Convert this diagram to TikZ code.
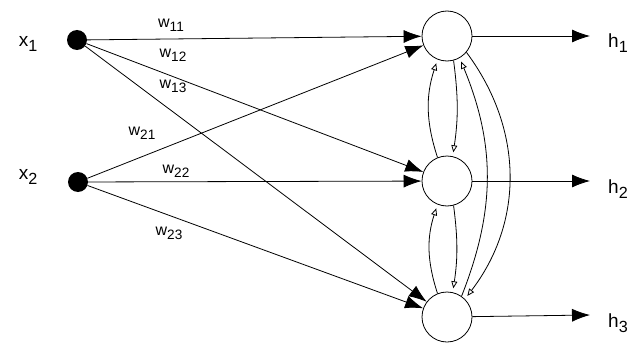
\documentclass[tikz,border=0pt]{standalone}
\usepackage{fontspec}
\setmainfont{Liberation Sans}
\usetikzlibrary{arrows.meta}

% lowered index, nearly full size
\newcommand{\lowIdx}[1]{\raisebox{-0.45ex}{\fontsize{0.85em}{1em}\selectfont #1}}

\begin{document}
\begin{tikzpicture}[
    x=1pt, y=1pt,
    neuron/.style={
        circle,
        draw=black,
        thick,
        fill=white,
        inner sep=0pt,
        minimum size=50pt
    },
    inputDot/.style={
        circle,
        fill=black,
        inner sep=0pt,
        minimum size=20pt
    },
    weightArrow/.style={
        thick,
        -{Latex[length=18pt,width=13pt]}
    },
    outArrow/.style={
        thick,
        -{Latex[length=18pt,width=13pt]}
    },
    feedbackArc/.style={
        thick,
        shorten >=4pt,
        -{Triangle[open,length=7pt,width=6pt]}
    },
    weightLabel/.style={
        inner sep=0pt,
        font=\fontsize{16pt}{18pt}\selectfont
    },
    ioLabel/.style={
        inner sep=0pt,
        font=\fontsize{19pt}{21pt}\selectfont
    }
]
\useasboundingbox (0,0) rectangle (637,349);

% ==================== INPUTS ====================
\node[inputDot] (inX1) at (77, 309) {};
\node[inputDot] (inX2) at (78, 167) {};
\node[ioLabel] (lblX1) at (28, 305) {x\lowIdx{1}};
\node[ioLabel] (lblX2) at (28, 172) {x\lowIdx{2}};

% ==================== NEURONS ====================
\node[neuron] (hid1) at (447, 313) {};
\node[neuron] (hid2) at (447, 168) {};
\node[neuron] (hid3) at (447, 32) {};

% Output ends
\coordinate (outH1) at (590, 313);
\coordinate (outH2) at (590, 168);
\coordinate (outH3) at (590, 34);
\node[ioLabel] (lblH1) at (618, 306) {h\lowIdx{1}};
\node[ioLabel] (lblH2) at (618, 160) {h\lowIdx{2}};
\node[ioLabel] (lblH3) at (618, 26) {h\lowIdx{3}};

% ==================== WEIGHTED LINKS ====================
\draw[weightArrow] (inX1) -- (hid1);
\draw[weightArrow] (inX1) -- (hid2);
\draw[weightArrow] (inX1) -- (hid3);
\draw[weightArrow] (inX2) -- (hid1);
\draw[weightArrow] (inX2) -- (hid2);
\draw[weightArrow] (inX2) -- (hid3);

\node[weightLabel] (w11) at (171, 324) {w\lowIdx{11}};
\node[weightLabel] (w12) at (173, 294) {w\lowIdx{12}};
\node[weightLabel] (w13) at (173, 263) {w\lowIdx{13}};
\node[weightLabel] (w21) at (142, 216) {w\lowIdx{21}};
\node[weightLabel] (w22) at (176, 178) {w\lowIdx{22}};
\node[weightLabel] (w23) at (169, 116) {w\lowIdx{23}};

% ==================== LATERAL FEEDBACK ====================
% neighbours
\draw[feedbackArc] (hid2.112) to[bend left=18] (hid1.248);
\draw[feedbackArc] (hid1.285) to[bend left=8] (hid2.77);
\draw[feedbackArc] (hid3.112) to[bend left=18] (hid2.248);
\draw[feedbackArc] (hid2.285) to[bend left=8] (hid3.77);

% first <-> last
\draw[feedbackArc] (hid3.55) to[bend right=22] (hid1.300);
\draw[feedbackArc] (hid1.320) to[bend left=37] (hid3.45);

% ==================== OUTPUTS ====================
\draw[outArrow] (hid1) -- (outH1);
\draw[outArrow] (hid2) -- (outH2);
\draw[outArrow] (hid3) -- (outH3);

\end{tikzpicture}
\end{document}
